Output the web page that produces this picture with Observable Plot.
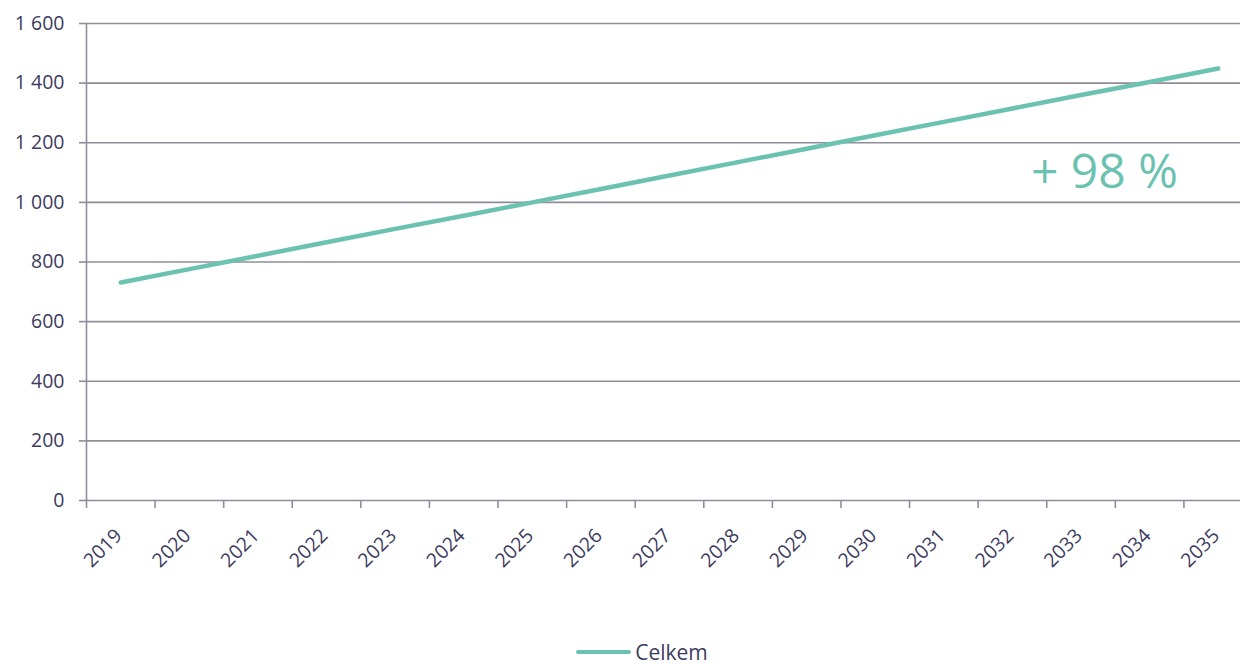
<!DOCTYPE html>
<html>
<head>
<meta charset="utf-8">
<script src="https://cdn.jsdelivr.net/npm/d3@7"></script>
<script src="https://cdn.jsdelivr.net/npm/@observablehq/plot@0.6"></script>
<style>
  html, body { margin: 0; padding: 0; background: #fff; overflow: hidden; }
  body { width: 1240px; height: 664px; font-family: "Open Sans", sans-serif; }
  #chart svg { max-width: none !important; display: block; }
  #legend { position: absolute; left: 0; top: 640px; width: 1240px; height: 24px; line-height: 24px;
    display: flex; justify-content: center; align-items: center; color: #3d3b5e; font-size: 21px; }
  #legend .sw { display: inline-block; width: 55px; height: 4px; background: #6cc2b1; border-radius: 2px; margin-right: 4px; margin-left: 44px; }
</style>
</head>
<body>
<div id="chart"></div>
<div id="legend"><span class="sw"></span><span id="legname"></span></div>
<script>
const years = [2019,2020,2021,2022,2023,2024,2025,2026,2027,2028,2029,2030,2031,2032,2033,2034,2035];
const celkem = [731,776,821,866,911,955,1000,1045,1090,1135,1180,1225,1270,1315,1360,1404,1449];
const yTicks = [0,200,400,600,800,1000,1200,1400,1600];
const seriesName = "Celkem";
const annotation = "+ 98 %";

document.getElementById("legname").textContent = seriesName;

const data = years.map((y, i) => ({year: y, value: celkem[i]}));
const boundaries = years.map(y => y - 0.5);
const fmt = v => d3.format(",")(v).replace(/,/g, "\u00a0");

const textColor = "#3d3b5e";
const gridColor = "#8f8d99";
const lineColor = "#6cc2b1";

const chart = Plot.plot({
  width: 1252,
  height: 636,
  marginLeft: 86,
  marginRight: 0,
  marginTop: 23,
  marginBottom: 136,
  style: {fontFamily: "'Open Sans', sans-serif", fontSize: "19px", color: textColor, background: "#fff", maxWidth: "none"},
  x: {type: "linear", domain: [2018.5, 2035.5]},
  y: {domain: [0, 1600]},
  marks: [
    Plot.ruleY(yTicks, {stroke: gridColor, strokeWidth: 1.6}),
    Plot.axisY({ticks: yTicks, tickFormat: fmt, tickSize: 7, tickPadding: 15, stroke: gridColor, strokeWidth: 1.6, label: null, fill: textColor, fontSize: 19.5}),
    Plot.axisX({ticks: boundaries, tickFormat: () => "", tickSize: 8, stroke: gridColor, strokeWidth: 1.6, label: null}),
    Plot.axisX({ticks: years, tickFormat: d => String(d), tickSize: 0, tickPadding: 32, tickRotate: -45, dx: -2, label: null, fill: textColor, fontSize: 19.5}),
    Plot.ruleX([2018.5], {stroke: gridColor, strokeWidth: 1.6}),
    Plot.line(data, {x: "year", y: "value", stroke: lineColor, strokeWidth: 4.5, strokeLinecap: "round"}),
    Plot.text([annotation], {x: 2033.34, y: 1047, text: d => d, fill: lineColor, fontSize: 48, lineAnchor: "bottom", textAnchor: "middle", letterSpacing: "-1px"})
  ]
});
document.getElementById("chart").appendChild(chart);
</script>
</body>
</html>
